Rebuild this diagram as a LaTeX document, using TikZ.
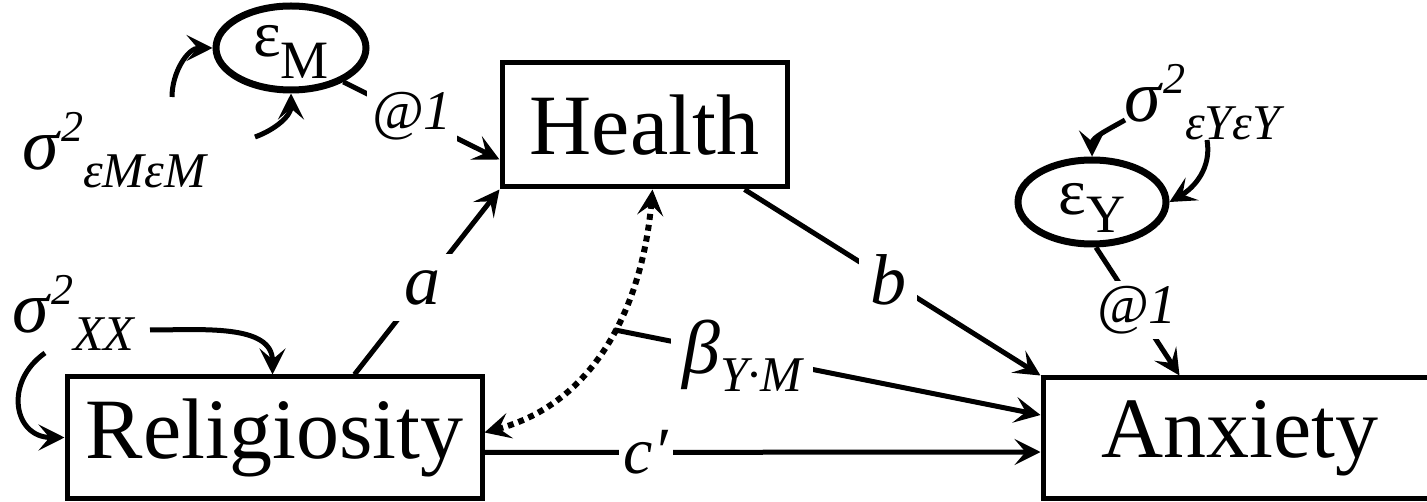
\documentclass[tikz,border=0pt]{standalone}
\usepackage{fontspec}
\setmainfont{Liberation Serif}
\usetikzlibrary{arrows.meta,shapes.geometric,calc}
\newcommand{\fsz}[1]{\fontsize{#1}{#1}\selectfont}
\newcommand{\varlab}[1]{\textit{σ}\raisebox{28pt}{\fsz{44}\textit{2}}\raisebox{-18pt}{\fsz{50}\textit{#1}}}
\begin{document}
\begin{tikzpicture}[x=1pt,y=1pt,
  box/.style={draw, line width=5pt, inner sep=0pt, font=\fsz{86}},
  err/.style={draw, ellipse, line width=7pt, inner sep=0pt},
  path/.style={line width=5pt, -{Stealth[length=26pt,width=26pt,inset=11pt]}},
  dotarrow/.style={line width=6pt, dash pattern=on 6pt off 5pt,
     {Stealth[length=26pt,width=26pt,inset=11pt]}-{Stealth[length=26pt,width=26pt,inset=11pt]}},
  lab/.style={fill=white, inner sep=10pt, font=\fsz{72}\itshape},
  atlab/.style={fill=white, inner sep=5pt, font=\fsz{56}\itshape},
  varl/.style={anchor=base west, inner sep=0pt, font=\fsz{74}}
]
\useasboundingbox (0,0) rectangle (1427,-502);

% main boxes
\node[box, minimum width=415pt, minimum height=121pt] (rel) at (274.5,-437.5) {Religiosity};
\node[box, minimum width=285pt, minimum height=124pt] (health) at (644.5,-125) {Health};
\node[box, minimum width=394pt, minimum height=120pt] (anx) at (1240,-438) {Anxiety};

% error terms
\node[err, minimum width=150pt, minimum height=84pt, text height=30pt, text depth=12pt] (eM) at (291,-48)
  {\fsz{66}ε\raisebox{-22pt}{\fsz{54}M}};
\node[err, minimum width=148pt, minimum height=84pt, text height=40pt, text depth=14pt] (eY) at (1092,-202)
  {\fsz{66}ε\raisebox{-18pt}{\fsz{54}Y}};

% variance labels
\node[varl] (sM) at (22,-170) {\varlab{εMεM}};
\node[varl] (sX) at (12,-333) {\varlab{XX}};
\node[varl] (sY) at (1124,-122) {\varlab{εYεY}};

% loose ends of variance arcs
\coordinate (mA) at (172,-97);
\coordinate (mB) at (255,-137);
\coordinate (xA) at (150,-330);
\coordinate (xB) at (45,-353);
\coordinate (yA) at (1125,-120);
\coordinate (yB) at (1207,-140);

\draw[path] (mA) to[out=90,in=180] (eM.west);
\draw[path] (mB) to[out=20,in=-90] (eM.south);
\draw[path] (xA) to[out=0,in=90] ([xshift=-2pt]rel.north);
\draw[path] (xB) to[out=215,in=180,looseness=1.5] (rel.west);
\draw[path] (yA) to[out=210,in=90] (eY.north);
\draw[path] (yB) to[out=-80,in=30] (eY.east);

% structural paths
\draw[path] (eM.-33) -- node[atlab, pos=0.44] (l1) {@1} ([yshift=30pt]health.south west);
\draw[path] (eY.-85) -- node[atlab, pos=0.49] (l2) {@1} ([xshift=139pt]anx.north west);
\draw[path] ([xshift=80pt]rel.north) -- node[lab, pos=0.47, inner sep=16pt] (la) {a} (health.south west);
\draw[path] ([xshift=-45pt]health.south east) -- node[lab, pos=0.485, inner sep=11pt] (lb) {b} (anx.north west);
\draw[path] ([yshift=-15pt]rel.east) -- node[lab, pos=0.29, inner sep=5pt, font=\fsz{66}\itshape] (lc) {c′} ([yshift=-14pt]anx.west);

% covariance (dotted)
\draw[dotarrow] ([xshift=8pt]health.south) to[out=-95,in=15] coordinate[pos=0.45] (cv) ([yshift=5pt]rel.east);

% beta path from covariance to anxiety
\draw[path] (cv) -- node[lab, pos=0.3, inner sep=11pt] (lbeta)
  {\fsz{76}β\raisebox{-18pt}{\fsz{50}Y·M}} ([yshift=23pt]anx.west);
\end{tikzpicture}
\end{document}
